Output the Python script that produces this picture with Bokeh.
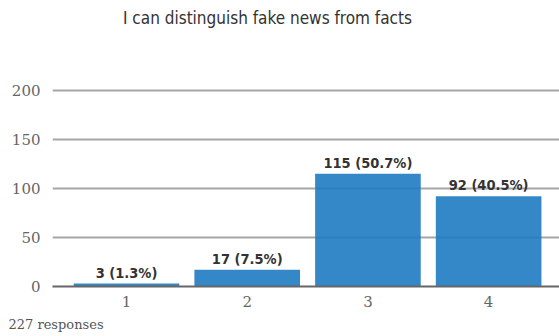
from bokeh.plotting import figure
from bokeh.models import Range1d, FixedTicker, Label, ColumnDataSource, Title
from bokeh.core.properties import value
from bokeh.embed import file_html
from bokeh.resources import INLINE

# Data
categories = [1, 2, 3, 4]
counts = [3, 17, 115, 92]
percents = ["1.3%", "7.5%", "50.7%", "40.5%"]
y_ticks = [0, 50, 100, 150, 200]
title_text = "I can distinguish fake news from facts"
footer_text = "227 responses"

labels = [f"{c} ({p})" for c, p in zip(counts, percents)]
src = ColumnDataSource(dict(x=categories, top=counts, label=labels))

p = figure(width=559, height=336, output_backend="svg", toolbar_location=None,
           x_range=Range1d(0.387, 4.587), y_range=Range1d(0, 291.8),
           min_border_left=52, min_border_right=0, min_border_top=0,
           min_border_bottom=50)
p.outline_line_color = None
p.background_fill_color = "white"
p.border_fill_color = "white"

p.xgrid.grid_line_color = None
p.ygrid.ticker = FixedTicker(ticks=y_ticks[1:])
p.ygrid.grid_line_color = "#a6a6a6"
p.ygrid.grid_line_width = 2

p.vbar(x="x", top="top", width=0.875, source=src, fill_color="#1f7bc1",
       fill_alpha=0.9, line_color=None)

p.text(x="x", y="top", text="label", source=src, text_align="center",
       text_baseline="bottom", y_offset=-3,
       text_font=value("DejaVu Sans Condensed"), text_font_style="bold",
       text_font_size="14.5px", text_color="#333333")

# axes
p.yaxis.ticker = FixedTicker(ticks=y_ticks)
p.yaxis.axis_line_color = None
p.yaxis.major_tick_line_color = None
p.yaxis.minor_tick_line_color = None
p.yaxis.major_label_standoff = 6
p.yaxis.major_label_text_font = "DejaVu Serif"
p.yaxis.major_label_text_font_size = "15px"
p.yaxis.major_label_text_color = "#666666"

p.xaxis.ticker = FixedTicker(ticks=categories)
p.xaxis.axis_line_color = "#666666"
p.xaxis.axis_line_width = 2
p.xaxis.major_tick_line_color = None
p.xaxis.minor_tick_line_color = None
p.xaxis.major_label_standoff = 3
p.xaxis.major_label_text_font = "DejaVu Serif"
p.xaxis.major_label_text_font_size = "15px"
p.xaxis.major_label_text_color = "#666666"

p.add_layout(Label(x=2.168, y=273.5, text=title_text, text_align="center",
                   text_baseline="middle", text_font="DejaVu Sans Condensed",
                   text_font_size="17px", text_color="#333333"))
p.add_layout(Title(text=footer_text, align="left", offset=-44,
                   text_font="DejaVu Serif", text_font_size="13px",
                   text_font_style="normal", text_color="#555555"), "below")

open("out.html", "w").write(file_html(p, INLINE))
